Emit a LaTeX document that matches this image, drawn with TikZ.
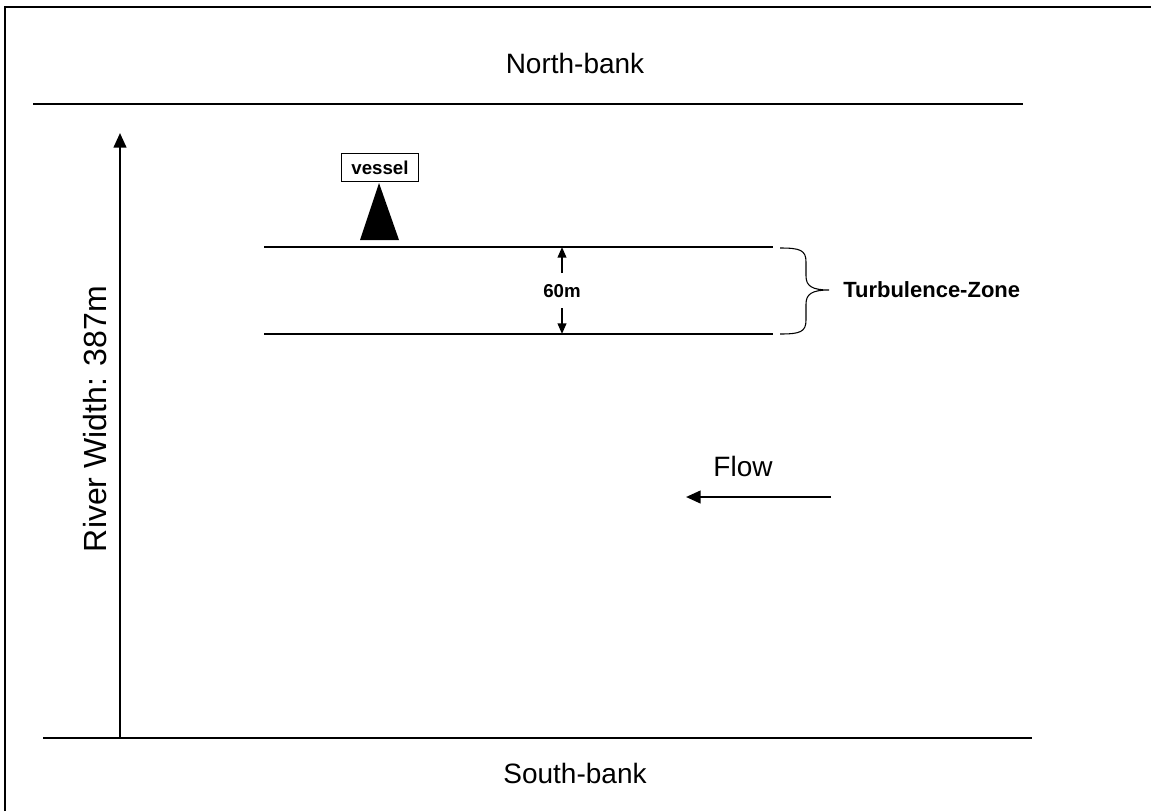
\documentclass[tikz,border=0pt]{standalone}
\usepackage{fontspec}
\setmainfont{Liberation Sans}
\usetikzlibrary{arrows.meta}
\begin{document}
\begin{tikzpicture}[x=0.75pt,y=-0.75pt,
  big/.style={font=\fontsize{21}{24}\selectfont, inner sep=0pt},
  bigger/.style={font=\fontsize{24}{28}\selectfont, inner sep=0pt},
  boldlbl/.style={font=\bfseries\fontsize{16.5}{19}\selectfont, inner sep=0pt},
  smallbold/.style={font=\bfseries\fontsize{14}{16}\selectfont, inner sep=0pt},
  thinline/.style={line width=0.9pt},
  arr/.style={line width=1.7pt, -{Triangle[length=11pt,width=9.5pt]}},
  smallarr/.style={line width=1.4pt, -{Triangle[length=8pt,width=6.5pt]}}]
\useasboundingbox (0,0) rectangle (1151,811);
% frame (left and top edges)
\draw[line width=1.6pt] (5,811) -- (5,7) -- (1151,7);
% banks
\coordinate (nbL) at (33,104); \coordinate (nbR) at (1023,104);
\coordinate (sbL) at (43,738); \coordinate (sbR) at (1032,738);
\draw[thinline] (nbL) -- (nbR);
\draw[thinline] (sbL) -- (sbR);
\node[big] (north) at (575,63) {North-bank};
\node[big] (south) at (575,773) {South-bank};
% river width arrow
\coordinate (rwB) at (120,738); \coordinate (rwT) at (120,133);
\draw[arr] (rwB) -- (rwT);
\node[bigger, rotate=90] (rw) at (95,419) {River Width: 387m};
% vessel
\node[draw, line width=0.8pt, smallbold, inner xsep=7.5pt, inner ysep=0pt, minimum height=21.5pt] (vessel) at (380,167.5) {vessel};
\fill (379,183) -- (399,240) -- (360,240) -- cycle;
% turbulence zone
\coordinate (z1L) at (264,247); \coordinate (z1R) at (773,247);
\coordinate (z2L) at (264,334); \coordinate (z2R) at (773,334);
\draw[thinline] (z1L) -- (z1R);
\draw[thinline] (z2L) -- (z2R);
\node[smallbold] (sixty) at (562,291) {60m};
\coordinate (upT) at (562,247); \coordinate (dnB) at (562,334);
\draw[smallarr] (562,273) -- (upT);
\draw[smallarr] (562,308) -- (dnB);
% brace
\draw[line width=0.8pt] (780,248) .. controls (800,248) and (806,250) .. (806,262)
  -- (806,276) .. controls (806,286) and (812,290) .. (829,290)
  .. controls (812,290) and (806,294) .. (806,304)
  -- (806,320) .. controls (806,332) and (800,334) .. (780,334);
\node[boldlbl, anchor=west] (tz) at (843,290) {Turbulence-Zone};
% flow
\node[big] (flow) at (743,466) {Flow};
\coordinate (fR) at (831,497); \coordinate (fL) at (686,497);
\draw[arr] (fR) -- (fL);
\end{tikzpicture}
\end{document}
